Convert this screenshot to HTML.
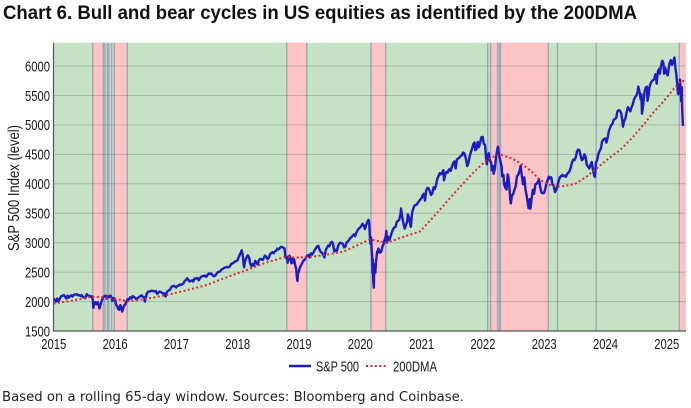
<!DOCTYPE html>
<html>
<head>
<meta charset="utf-8">
<style>
  html, body { margin: 0; padding: 0; background: #ffffff; }
  body { width: 691px; height: 408px; overflow: hidden; }
  svg { display: block; }
  .tick { font-family: "Liberation Sans", Arial, sans-serif; font-size: 15px; fill: #1a1a1a; }
</style>
</head>
<body>
<svg width="691" height="408" viewBox="0 0 691 408" xmlns="http://www.w3.org/2000/svg">
  <defs>
    <clipPath id="plot"><rect x="53.5" y="42.7" width="632.5" height="288.3"/></clipPath>
  </defs>

  <!-- Title -->
  <text x="3" y="19" font-family="Liberation Sans, Arial, sans-serif" font-weight="bold" font-size="19.5" fill="#111" textLength="634" lengthAdjust="spacingAndGlyphs">Chart 6. Bull and bear cycles in US equities as identified by the 200DMA</text>

  <!-- Plot background (bull = green) -->
  <rect x="53.5" y="42.7" width="632.5" height="288.3" fill="#c6e2c5"/>

  <!-- Bear bands (pink) -->
  <g fill="#fdc4c5">
    <rect x="92.7" y="42.7" width="10.6" height="288.3"/>
    <rect x="114.3" y="42.7" width="13" height="288.3"/>
    <rect x="286.7" y="42.7" width="20" height="288.3"/>
    <rect x="371" y="42.7" width="14.7" height="288.3"/>
    <rect x="491.5" y="42.7" width="5.8" height="288.3"/>
    <rect x="500.5" y="42.7" width="47.8" height="288.3"/>
    <rect x="679.3" y="42.7" width="6.7" height="288.3"/>
  </g>

  <!-- band edge lines -->
  <g stroke="#9aa4b6" stroke-width="1.4" opacity="0.9">
    <line x1="92.7" y1="42.7" x2="92.7" y2="331"/>
    <line x1="103.3" y1="42.7" x2="103.3" y2="331"/>
    <line x1="104.8" y1="42.7" x2="104.8" y2="331"/>
    <line x1="107.4" y1="42.7" x2="107.4" y2="331"/>
    <line x1="108.8" y1="42.7" x2="108.8" y2="331"/>
    <line x1="111.6" y1="42.7" x2="111.6" y2="331"/>
    <line x1="114.3" y1="42.7" x2="114.3" y2="331"/>
    <line x1="127.3" y1="42.7" x2="127.3" y2="331"/>
    <line x1="286.7" y1="42.7" x2="286.7" y2="331"/>
    <line x1="306.7" y1="42.7" x2="306.7" y2="331"/>
    <line x1="371" y1="42.7" x2="371" y2="331"/>
    <line x1="385.7" y1="42.7" x2="385.7" y2="331"/>
    <line x1="487.7" y1="42.7" x2="487.7" y2="331"/>
    <line x1="490.6" y1="42.7" x2="490.6" y2="331"/>
    <line x1="497.6" y1="42.7" x2="497.6" y2="331"/>
    <line x1="499.4" y1="42.7" x2="499.4" y2="331"/>
    <line x1="500.5" y1="42.7" x2="500.5" y2="331"/>
    <line x1="548.3" y1="42.7" x2="548.3" y2="331"/>
    <line x1="557.5" y1="42.7" x2="557.5" y2="331"/>
    <line x1="596.2" y1="42.7" x2="596.2" y2="331"/>
    <line x1="679.3" y1="42.7" x2="679.3" y2="331"/>
  </g>

  <!-- horizontal gridlines -->
  <g stroke="#5a645a" stroke-opacity="0.3" stroke-width="1">
    <line x1="53.5" y1="301.6" x2="686" y2="301.6"/>
    <line x1="53.5" y1="272.1" x2="686" y2="272.1"/>
    <line x1="53.5" y1="242.7" x2="686" y2="242.7"/>
    <line x1="53.5" y1="213.2" x2="686" y2="213.2"/>
    <line x1="53.5" y1="183.8" x2="686" y2="183.8"/>
    <line x1="53.5" y1="154.4" x2="686" y2="154.4"/>
    <line x1="53.5" y1="124.9" x2="686" y2="124.9"/>
    <line x1="53.5" y1="95.5" x2="686" y2="95.5"/>
    <line x1="53.5" y1="66.0" x2="686" y2="66.0"/>
  </g>

  <!-- S&P 500 line (data coords: decimal year, index level) -->
  <g clip-path="url(#plot)">
    <g transform="translate(53.5,331) scale(61.3,-0.05889) translate(-2015,-1500)">
      <polyline fill="none" stroke="#1c1cc0" stroke-width="2.4" stroke-linejoin="round" vector-effect="non-scaling-stroke" points="
2015.00,2058 2015.02,2025 2015.04,2002 2015.06,2050 2015.08,1995 2015.10,2045 2015.13,2096 2015.15,2100 2015.17,2110 2015.19,2080 2015.21,2050 2015.23,2100 2015.25,2068 2015.27,2090 2015.29,2105 2015.31,2085 2015.33,2115 2015.36,2120 2015.38,2125 2015.40,2105 2015.42,2110 2015.44,2095 2015.46,2110 2015.48,2075 2015.50,2070 2015.52,2055 2015.54,2125 2015.56,2105 2015.58,2100 2015.60,2085 2015.62,2090 2015.64,2035 2015.645,1970 2015.65,1893 2015.66,1945 2015.68,1990 2015.70,1955 2015.72,1990 2015.74,1930 2015.75,1882 2015.77,1960 2015.79,2020 2015.81,2075 2015.83,2090 2015.85,2100 2015.87,2050 2015.89,2090 2015.91,2080 2015.93,2100 2015.95,2060 2015.96,2012 2015.98,2060 2016.00,2044 2016.01,2012 2016.02,1945 2016.04,1920 2016.05,1880 2016.07,1860 2016.08,1900 2016.09,1940 2016.11,1880 2016.12,1830 2016.13,1860 2016.15,1930 2016.17,1950 2016.19,2000 2016.21,2040 2016.23,2037 2016.25,2072 2016.27,2050 2016.29,2090 2016.31,2080 2016.33,2065 2016.35,2040 2016.37,2050 2016.39,2075 2016.42,2095 2016.44,2105 2016.46,2080 2016.48,2070 2016.49,2000 2016.50,2040 2016.52,2130 2016.54,2165 2016.56,2170 2016.58,2175 2016.60,2185 2016.62,2180 2016.65,2170 2016.67,2180 2016.69,2130 2016.71,2150 2016.73,2170 2016.75,2160 2016.77,2150 2016.79,2135 2016.81,2140 2016.83,2085 2016.85,2165 2016.87,2180 2016.90,2200 2016.92,2240 2016.94,2260 2016.96,2270 2016.98,2255 2017.00,2239
2017.02,2265 2017.04,2270 2017.06,2290 2017.08,2280 2017.10,2295 2017.12,2310 2017.14,2350 2017.16,2365 2017.18,2395 2017.20,2370 2017.22,2340 2017.24,2350 2017.26,2362 2017.28,2340 2017.30,2390 2017.33,2390 2017.35,2400 2017.37,2360 2017.39,2400 2017.41,2420 2017.43,2435 2017.45,2430 2017.47,2440 2017.49,2420 2017.51,2445 2017.53,2475 2017.55,2470 2017.57,2478 2017.60,2440 2017.62,2430 2017.64,2445 2017.66,2470 2017.68,2500 2017.71,2505 2017.73,2530 2017.75,2550 2017.77,2560 2017.79,2575 2017.81,2580 2017.83,2590 2017.85,2580 2017.88,2600 2017.90,2640 2017.92,2650 2017.94,2660 2017.96,2680 2017.98,2685 2018.00,2695 2018.02,2750 2018.04,2800 2018.06,2840 2018.07,2872 2018.08,2820 2018.09,2760 2018.10,2640 2018.11,2581 2018.12,2660 2018.14,2730 2018.16,2770 2018.17,2786 2018.19,2750 2018.21,2640 2018.23,2600 2018.25,2640 2018.27,2610 2018.29,2690 2018.31,2660 2018.33,2630 2018.35,2700 2018.37,2725 2018.39,2720 2018.41,2705 2018.43,2740 2018.45,2780 2018.47,2760 2018.49,2720 2018.51,2740 2018.53,2800 2018.55,2820 2018.57,2840 2018.59,2820 2018.61,2850 2018.63,2860 2018.65,2900 2018.67,2885 2018.69,2905 2018.71,2930 2018.73,2925 2018.75,2915 2018.77,2900 2018.78,2780 2018.80,2730 2018.81,2760 2018.82,2660 2018.84,2740 2018.85,2780 2018.87,2730 2018.88,2650 2018.90,2660 2018.91,2740 2018.93,2700 2018.94,2630 2018.96,2550 2018.97,2420 2018.98,2351 2018.99,2485 2019.00,2507
2019.02,2580 2019.04,2620 2019.06,2660 2019.08,2700 2019.10,2710 2019.12,2750 2019.14,2780 2019.16,2790 2019.18,2750 2019.20,2820 2019.22,2800 2019.24,2830 2019.26,2875 2019.28,2905 2019.30,2935 2019.32,2945 2019.34,2880 2019.36,2840 2019.38,2830 2019.40,2790 2019.42,2750 2019.44,2870 2019.46,2910 2019.48,2950 2019.50,2940 2019.52,2995 2019.54,3015 2019.56,2980 2019.58,2850 2019.60,2880 2019.62,2850 2019.64,2930 2019.66,2980 2019.68,3000 2019.70,2990 2019.72,2980 2019.74,2920 2019.76,2930 2019.78,3000 2019.80,3020 2019.82,3040 2019.84,3080 2019.86,3090 2019.88,3120 2019.90,3140 2019.92,3110 2019.94,3170 2019.96,3210 2019.98,3240 2020.00,3258 2020.02,3280 2020.04,3320 2020.06,3295 2020.08,3230 2020.10,3300 2020.12,3350 2020.13,3375 2020.14,3386 2020.15,3340 2020.16,3120 2020.17,2980 2020.18,3090 2020.19,2880 2020.20,2740 2020.205,2480 2020.21,2710 2020.215,2390 2020.22,2300 2020.225,2237 2020.23,2450 2020.24,2630 2020.25,2490 2020.26,2660 2020.27,2760 2020.28,2850 2020.29,2830 2020.30,2900 2020.31,2870 2020.33,2830 2020.35,2860 2020.37,2950 2020.38,2960 2020.40,3040 2020.42,3110 2020.43,3200 2020.44,3000 2020.46,3100 2020.48,3050 2020.50,3110 2020.52,3180 2020.54,3230 2020.56,3260 2020.58,3270 2020.60,3350 2020.62,3370 2020.64,3390 2020.66,3480 2020.67,3580 2020.69,3430 2020.71,3320 2020.73,3240 2020.75,3300 2020.77,3360 2020.78,3480 2020.80,3430 2020.82,3310 2020.83,3270 2020.85,3510 2020.87,3580 2020.88,3610 2020.90,3640 2020.92,3640 2020.94,3670 2020.96,3700 2020.98,3730 2021.00,3750
2021.02,3800 2021.04,3830 2021.06,3715 2021.08,3890 2021.10,3930 2021.12,3920 2021.14,3870 2021.16,3810 2021.18,3840 2021.20,3940 2021.22,3910 2021.24,3970 2021.26,4080 2021.28,4130 2021.30,4180 2021.32,4160 2021.34,4190 2021.36,4230 2021.37,4060 2021.39,4160 2021.41,4200 2021.43,4190 2021.45,4240 2021.47,4250 2021.48,4220 2021.50,4290 2021.52,4350 2021.54,4380 2021.56,4260 2021.58,4410 2021.60,4430 2021.62,4440 2021.64,4470 2021.66,4480 2021.68,4530 2021.70,4520 2021.72,4460 2021.74,4360 2021.75,4300 2021.77,4360 2021.79,4470 2021.81,4540 2021.83,4600 2021.85,4680 2021.87,4700 2021.88,4570 2021.90,4590 2021.92,4710 2021.94,4620 2021.96,4700 2021.98,4790 2022.00,4796 2022.02,4680 2022.04,4660 2022.06,4400 2022.07,4330 2022.09,4480 2022.10,4520 2022.12,4400 2022.14,4350 2022.15,4230 2022.17,4300 2022.18,4170 2022.20,4260 2022.22,4460 2022.24,4580 2022.25,4630 2022.27,4480 2022.29,4390 2022.31,4290 2022.32,4130 2022.34,4150 2022.35,4000 2022.37,3930 2022.38,4010 2022.39,3900 2022.41,4160 2022.42,4130 2022.44,3900 2022.45,3750 2022.46,3666 2022.48,3800 2022.50,3830 2022.52,3900 2022.54,3960 2022.56,4130 2022.58,4150 2022.60,4210 2022.62,4305 2022.64,4140 2022.66,3990 2022.68,4110 2022.70,3900 2022.72,3790 2022.75,3585 2022.77,3740 2022.78,3577 2022.80,3750 2022.82,3900 2022.84,3830 2022.86,3990 2022.88,4000 2022.90,4030 2022.92,4080 2022.94,3940 2022.96,3850 2022.98,3840 2023.00,3840
2023.02,3900 2023.04,4000 2023.06,4060 2023.08,4120 2023.10,4090 2023.12,4110 2023.14,3990 2023.16,3970 2023.18,3860 2023.20,3900 2023.22,3950 2023.24,4050 2023.26,4110 2023.28,4130 2023.30,4150 2023.32,4130 2023.34,4140 2023.36,4120 2023.38,4170 2023.40,4190 2023.42,4220 2023.44,4280 2023.46,4370 2023.48,4410 2023.50,4400 2023.52,4450 2023.54,4550 2023.56,4580 2023.58,4570 2023.60,4470 2023.62,4400 2023.64,4420 2023.66,4500 2023.68,4460 2023.70,4320 2023.72,4290 2023.74,4260 2023.76,4320 2023.78,4370 2023.80,4240 2023.82,4140 2023.83,4117 2023.85,4360 2023.87,4410 2023.89,4510 2023.91,4560 2023.93,4600 2023.95,4720 2023.97,4750 2024.00,4770 2024.02,4700 2024.04,4780 2024.06,4900 2024.08,4950 2024.10,5000 2024.12,5020 2024.14,5090 2024.16,5100 2024.18,5120 2024.20,5230 2024.22,5250 2024.24,5240 2024.26,5200 2024.28,5070 2024.29,4970 2024.31,5070 2024.33,5110 2024.35,5220 2024.37,5300 2024.39,5270 2024.41,5230 2024.43,5300 2024.45,5350 2024.47,5430 2024.49,5470 2024.51,5500 2024.53,5570 2024.54,5650 2024.56,5560 2024.58,5430 2024.59,5520 2024.60,5190 2024.62,5340 2024.64,5550 2024.66,5630 2024.68,5650 2024.69,5410 2024.71,5520 2024.72,5630 2024.74,5700 2024.76,5740 2024.78,5760 2024.80,5780 2024.82,5860 2024.83,5800 2024.84,5700 2024.86,5910 2024.88,5950 2024.89,5870 2024.91,6000 2024.93,6090 2024.95,6050 2024.96,5870 2024.98,5970 2025.00,5880 2025.02,5840 2025.03,5910 2025.05,6050 2025.07,6100 2025.09,6020 2025.11,6080 2025.13,6144 2025.14,6010 2025.16,5860 2025.17,5740 2025.18,5610 2025.19,5520 2025.21,5670 2025.22,5770 2025.23,5580 2025.24,5400 2025.25,5640 2025.255,5300 2025.265,5060 2025.27,4982"/>
    </g>

    <!-- 200DMA dotted line (pixel coords) -->
    <polyline fill="none" stroke="#cf2f2f" stroke-width="2" stroke-dasharray="2,2.4" points="
53.5,303.5 70,301 93,296.5 105,297.5 117,299.3 130,301.5 145,299 166.7,295 186,290.5 206.7,285 230,276 246.7,270 265,263 285,257 296,257.5 306.7,257.3 325,255 343.3,251.7 358,245 370,239.3 378,241 386.7,242.7 403,237 420,231.5 436.7,213.3 450,198 463.3,183.3 475,171 486.7,160 495,156 501.7,155 512,158.5 523.3,165 532,172 540,180 550,185 560,186.7 575,184 586,177 596.7,168.3 608,159 620,150 632,138 643.3,125 653,113 663.3,101.7 672,91 680,81.7 685,80.7"/>
  </g>

  <!-- Axes spines -->
  <line x1="53.5" y1="42.7" x2="53.5" y2="331.5" stroke="#555" stroke-width="1.2"/>
  <line x1="53" y1="331" x2="686" y2="331" stroke="#555" stroke-width="1.2"/>

  <!-- Y tick labels -->
  <g class="tick" text-anchor="end">
    <text x="50" y="336.3" textLength="25" lengthAdjust="spacingAndGlyphs">1500</text>
    <text x="50" y="306.9" textLength="25" lengthAdjust="spacingAndGlyphs">2000</text>
    <text x="50" y="277.4" textLength="25" lengthAdjust="spacingAndGlyphs">2500</text>
    <text x="50" y="248" textLength="25" lengthAdjust="spacingAndGlyphs">3000</text>
    <text x="50" y="218.5" textLength="25" lengthAdjust="spacingAndGlyphs">3500</text>
    <text x="50" y="189.1" textLength="25" lengthAdjust="spacingAndGlyphs">4000</text>
    <text x="50" y="159.7" textLength="25" lengthAdjust="spacingAndGlyphs">4500</text>
    <text x="50" y="130.2" textLength="25" lengthAdjust="spacingAndGlyphs">5000</text>
    <text x="50" y="100.8" textLength="25" lengthAdjust="spacingAndGlyphs">5500</text>
    <text x="50" y="71.3" textLength="25" lengthAdjust="spacingAndGlyphs">6000</text>
  </g>

  <!-- X tick labels -->
  <g class="tick" text-anchor="middle">
    <text x="53.8" y="349" textLength="25" lengthAdjust="spacingAndGlyphs">2015</text>
    <text x="115.1" y="349" textLength="25" lengthAdjust="spacingAndGlyphs">2016</text>
    <text x="176.4" y="349" textLength="25" lengthAdjust="spacingAndGlyphs">2017</text>
    <text x="237.7" y="349" textLength="25" lengthAdjust="spacingAndGlyphs">2018</text>
    <text x="299" y="349" textLength="25" lengthAdjust="spacingAndGlyphs">2019</text>
    <text x="360.3" y="349" textLength="25" lengthAdjust="spacingAndGlyphs">2020</text>
    <text x="421.6" y="349" textLength="25" lengthAdjust="spacingAndGlyphs">2021</text>
    <text x="482.9" y="349" textLength="25" lengthAdjust="spacingAndGlyphs">2022</text>
    <text x="544.2" y="349" textLength="25" lengthAdjust="spacingAndGlyphs">2023</text>
    <text x="605.5" y="349" textLength="25" lengthAdjust="spacingAndGlyphs">2024</text>
    <text x="666.8" y="349" textLength="25" lengthAdjust="spacingAndGlyphs">2025</text>
  </g>

  <!-- Y axis title -->
  <text transform="translate(19,188) rotate(-90)" text-anchor="middle" font-family="Liberation Sans, Arial, sans-serif" font-size="16" fill="#1a1a1a" textLength="126" lengthAdjust="spacingAndGlyphs">S&amp;P 500 Index (level)</text>

  <!-- Legend -->
  <line x1="289" y1="366" x2="311" y2="366" stroke="#1c1cc0" stroke-width="2.6"/>
  <text x="316" y="371.5" font-family="Liberation Sans, Arial, sans-serif" font-size="15" fill="#1a1a1a" textLength="43" lengthAdjust="spacingAndGlyphs">S&amp;P 500</text>
  <line x1="366" y1="366" x2="388" y2="366" stroke="#cf2f2f" stroke-width="2" stroke-dasharray="2,2.4"/>
  <text x="393" y="371.5" font-family="Liberation Sans, Arial, sans-serif" font-size="15" fill="#1a1a1a" textLength="44" lengthAdjust="spacingAndGlyphs">200DMA</text>

  <!-- Footnote -->
  <text x="2" y="401" font-family="DejaVu Sans, Verdana, sans-serif" font-size="13" fill="#222" textLength="462" lengthAdjust="spacingAndGlyphs">Based on a rolling 65-day window. Sources: Bloomberg and Coinbase.</text>
</svg>
</body>
</html>
